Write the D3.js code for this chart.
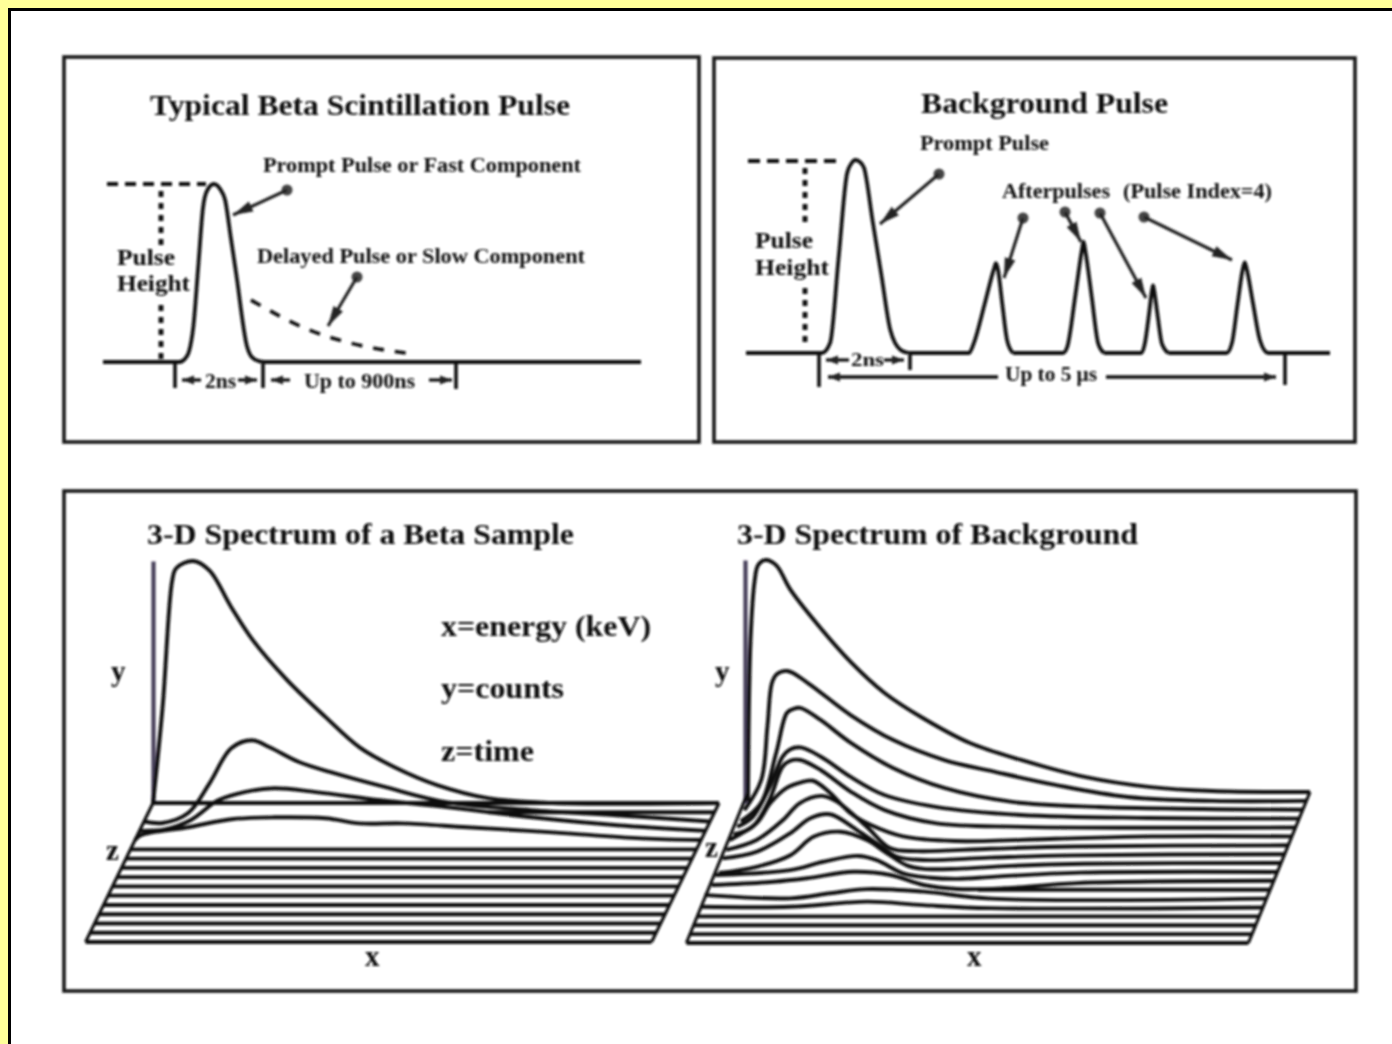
<!DOCTYPE html>
<html>
<head>
<meta charset="utf-8">
<script src="https://cdn.jsdelivr.net/npm/d3@7"></script>
<style>
html, body { margin: 0; padding: 0; background: #fff; overflow: hidden; }
text { font-family: "Liberation Serif", serif; font-weight: bold; fill: #0e0e0e; }
</style>
</head>
<body>
<div id="chart"></div>
<script>
// pulse shapes: [time along the baseline (0-100), pulse height (% of prompt)]
var betaPrompt = [[0, 0], [14.2, 0], [15.3, 2], [16, 6], [16.8, 20], [17.7, 53.5], [18.6, 87], [19.3, 96], [20.6, 100], [21.8, 97], [22.7, 91], [23.7, 71], [24.75, 49.7], [26.8, 8.4], [27.6, 3], [29, 0.5], [30, 0], [100, 0]];
var betaDelayed = [[27.5, 34.8], [38.3, 18], [45.9, 10.7], [56.3, 5]];

var bgPrompt = [[0, 0], [13, 0], [14.4, 5.2], [15.85, 49], [17.3, 93], [18, 98], [18.7, 100], [19.5, 99], [20.2, 96], [21.7, 68], [23.2, 40], [24.7, 12], [26.5, 1.5], [27.9, 0]];
var bgAfter1 = [[27.9, 0], [38.2, 0], [39, 5], [40.9, 25.8], [42.5, 44], [42.8, 46.6], [43.1, 44], [43.9, 25], [44.7, 6.7], [45.7, 0]];
var bgAfter2 = [[45.7, 0], [54.3, 0], [55, 3], [56.4, 30], [57.5, 53], [57.8, 57.7], [58.1, 53], [59.2, 29], [60.3, 5], [61.3, 0]];
var bgAfter3 = [[61.3, 0], [67.7, 0], [68.3, 5], [69, 20], [69.55, 33], [69.7, 35], [69.85, 33], [70.5, 19], [71.2, 5], [72.3, 0]];
var bgAfter4 = [[72.3, 0], [82.3, 0], [83.2, 5], [84.2, 26], [85.1, 44], [85.4, 47], [85.7, 44], [86.8, 26], [88, 6.7], [89.4, 0], [100, 0]];

// 3-D spectra: [energy (0-100), counts (% of the top trace)], one list per time slice
var betaZ0 = [[0, 0], [1.7, 39.7], [3.4, 92], [4.1, 97], [7.1, 100], [10, 96], [13.8, 81], [17.6, 67.4], [23.7, 50.8], [30.5, 35.5], [36.5, 23], [42.6, 14.9], [50.2, 7.4], [59.2, 2], [70.6, 0], [100, 0]];
var betaZ2 = [[0, 0], [3.3, -0.6], [7.8, 3.5], [11.6, 15.9], [15.4, 30.3], [19.1, 33.6], [22.2, 30.7], [27.5, 24.5], [33.6, 20], [42.7, 14.2], [53.4, 8], [68.4, 4.7], [83.5, 2.6], [100, 0]];
var betaZ3 = [[0, 0], [4.5, 0.6], [9, 4.4], [13.9, 12.6], [18.5, 16], [23.8, 17.6], [31.2, 16], [42.6, 12.6], [54.2, 9.8], [69.3, 5.6], [84.4, 2.3], [100, 0]];
var betaZ4 = [[0, 0], [1, 2], [9.4, 5.3], [17, 8.6], [24.6, 9.4], [33.7, 9], [39.7, 6.9], [47.3, 6.9], [58.7, 5.3], [73.8, 3.2], [89.5, 0.7], [100, 0]];
var betaSlices = [0, 2, 3, 4];
var betaCurves = [betaZ0, betaZ2, betaZ3, betaZ4];
// energy where the flat part of each time slice comes into view
var betaFloorStart = [0, 60, 100, 100, 100, 0, 0, 0, 0, 0, 0, 0, 0, 0, 0, 0];

var bgZ0 = [[0, -4], [0.45, 65.5], [1.2, 91.4], [1.8, 97.8], [3.1, 100], [5, 97.8], [7.6, 87], [12.9, 70.7], [18.3, 56], [24.3, 42.7], [31.1, 31.9], [39.5, 21.1], [48.6, 13.8], [59.9, 6.5], [71.3, 2.2], [82.6, 0.4], [100, 0]];
var bgZ1 = [[0, -4], [3, 9], [4.1, 32], [4.9, 50.8], [5.8, 54.7], [7.7, 56], [11.3, 50.8], [18.9, 37], [26.5, 26.2], [35.6, 17.6], [44.6, 12.5], [55.3, 6.9], [68.2, 1.7], [83.3, 0], [100, 0]];
var bgZ2 = [[0, -5], [3.6, 2.9], [6.3, 24.5], [8.2, 41.7], [9.3, 43.4], [10.6, 43.9], [14.2, 38.7], [19.6, 28.8], [27.1, 18], [36.2, 9.4], [48.3, 3.4], [63.7, 1.2], [100, 0]];
var bgZ3 = [[0, -3.5], [2.8, 0.8], [5.8, 13.8], [8.1, 26.7], [9.4, 29.8], [11.3, 30.7], [14.9, 26.7], [20.2, 18], [26.2, 10.2], [35.3, 5.1], [50.5, 1.6], [73, 0.3], [100, 0]];
var bgZ4 = [[0, -3], [3.4, 0.3], [6.4, 11.9], [8.7, 26.2], [10, 28.7], [11.9, 29.1], [15.5, 24.8], [20.9, 15.4], [26.9, 7.5], [35.9, 1.9], [51.2, 0.3], [100, 0]];
var bgZ5 = [[0, -1.5], [4.8, 5.8], [7.2, 14.4], [10.1, 20.9], [12.5, 23.2], [14.8, 24], [17.8, 18.8], [21.4, 10.1], [25, 5], [30.8, 0], [40, -2], [58, -1], [75, 0], [100, 0]];
var bgZ6 = [[0, -2], [5.4, 2.3], [10.1, 10.9], [13.1, 18.2], [17, 21.3], [19.7, 18.8], [25, 8], [29.2, -1.3], [33.9, -2.5], [47, -1.5], [62, -0.5], [100, 0]];
var bgZ7 = [[0, -1.8], [6.1, 1.1], [12, 9], [15.6, 15.5], [19.1, 17.2], [23.9, 10.4], [27.4, 4.7], [31, -1.1], [35.7, -2.5], [47.6, -1.5], [62, -0.5], [100, 0]];
var bgZ8 = [[0, -4.3], [6.7, -1.6], [12.7, 3.4], [16.8, 11.3], [21.6, 13.5], [26.3, 9.9], [29.9, 4.2], [33.4, -1], [36.4, -2.5], [42.3, -2.5], [52, -1.2], [65, -0.3], [100, 0]];
var bgZ9 = [[0, -1.3], [13.3, 0.8], [19.2, 4.4], [25.4, 6.9], [28.7, 5.1], [33.4, -0.6], [38.2, -2.5], [43, -3], [50, -2], [65, -0.3], [100, 0]];
var bgZ10 = [[0, -1.8], [11, -0.4], [16.9, 1.1], [25.2, 3.9], [31.8, 2.5], [37.7, -1.8], [43.6, -3.5], [52, -3.2], [65, -1], [100, 0]];
var bgZ12 = [[0, 1.6], [15.2, 0.1], [22.4, 2.3], [28.9, 4.1], [39, 3], [51, 0], [100, 0]];
var bgZ13 = [[0, 0.3], [15.9, 0.3], [29.6, 2.5], [39.6, 1], [51.5, -0.3], [100, 0]];
var bgSlices = [0, 1, 2, 3, 4, 5, 6, 7, 8, 9, 10, 12, 13];
var bgCurves = [bgZ0, bgZ1, bgZ2, bgZ3, bgZ4, bgZ5, bgZ6, bgZ7, bgZ8, bgZ9, bgZ10, bgZ12, bgZ13];
var bgFloorStart = [100, 100, 100, 100, 100, 100, 100, 100, 100, 100, 100, 48, 100, 100, 0, 0, 0, 0];

var W = 1392, H = 1044;
var ink = "#111";

var svg = d3.select("#chart").append("svg").attr("width", W).attr("height", H).style("display", "block");

// scanned look: everything printed on the white page is slightly soft
var soft = svg.append("defs").append("filter").attr("id", "soft");
soft.append("feGaussianBlur").attr("stdDeviation", 0.8);

svg.append("rect").attr("width", W).attr("height", H).attr("fill", "#FFFF99");
svg.append("rect").attr("x", 8).attr("y", 8).attr("width", W).attr("height", H).attr("fill", "#000");
svg.append("rect").attr("x", 11).attr("y", 11).attr("width", W).attr("height", H).attr("fill", "#fff");

var page = svg.append("g").attr("filter", "url(#soft)");

function label(txt, x, y, size, len) {
    var t = page.append("text").attr("x", x).attr("y", y).style("font-size", size + "px").text(txt);
    if (len) t.attr("textLength", len).attr("lengthAdjust", "spacingAndGlyphs");
    return t;
}

function ball(x, y) {
    page.append("circle").attr("cx", x).attr("cy", y).attr("r", 5.5).attr("fill", "#444");
}

function head(tipX, tipY, fromX, fromY, l, w) {
    var a = Math.atan2(fromY - tipY, fromX - tipX);
    var pts = [[tipX, tipY],
        [tipX + l * Math.cos(a) - w * Math.sin(a), tipY + l * Math.sin(a) + w * Math.cos(a)],
        [tipX + l * Math.cos(a) + w * Math.sin(a), tipY + l * Math.sin(a) - w * Math.cos(a)]];
    page.append("polygon").attr("points", pts.join(" ")).attr("fill", "#222");
}

function pointer(x0, y0, tipX, tipY) {
    ball(x0, y0);
    page.append("line").attr("x1", x0).attr("y1", y0).attr("x2", tipX).attr("y2", tipY).attr("stroke", "#222").attr("stroke-width", 3.2);
    head(tipX, tipY, x0, y0, 20, 5.5);
}

function seg(x1, y1, x2, y2, width, dash) {
    page.append("line").attr("x1", x1).attr("y1", y1).attr("x2", x2).attr("y2", y2)
        .attr("stroke", ink).attr("stroke-width", width).attr("stroke-dasharray", dash || null);
}

function arrow(tipX, y, tailX, width) {
    seg(tailX, y, tipX, y, width);
    head(tipX, y, tailX, y, 12, 4.5);
}

function panel(x, y, w, h) {
    page.append("rect").attr("x", x).attr("y", y).attr("width", w).attr("height", h)
        .attr("fill", "none").attr("stroke", "#161616").attr("stroke-width", 3.6);
}

panel(64, 57, 635, 385);
panel(714, 58, 641, 384);
panel(64, 491, 1292, 500);

// ---- top left: beta pulse
var xA = d3.scaleLinear().domain([0, 100]).range([103, 641]);
var yA = d3.scaleLinear().domain([0, 100]).range([362, 184]);
var lineA = d3.line().x(function (d) { return xA(d[0]); }).y(function (d) { return yA(d[1]); }).curve(d3.curveMonotoneX);

page.append("path").attr("d", lineA(betaPrompt)).attr("fill", "none").attr("stroke", ink).attr("stroke-width", 3.8);
page.append("path").attr("d", lineA(betaDelayed)).attr("fill", "none").attr("stroke", ink).attr("stroke-width", 3.6).attr("stroke-dasharray", "11 11");

seg(107, 184, 206, 184, 3.8, "11 7");
seg(161, 191, 161, 248, 4.8, "6 6");
seg(161, 305, 161, 360, 4.8, "6 6");

label("Typical Beta Scintillation Pulse", 150, 115, 29, 420);
label("Prompt Pulse or Fast Component", 263, 172, 20, 318);
label("Delayed Pulse or Slow Component", 257, 263, 20, 328);
label("Pulse", 117, 265, 23, 58);
label("Height", 117, 291, 23, 73);
label("2ns", 205, 388, 20, 31);
label("Up to 900ns", 304, 388, 20, 111);

pointer(287, 190, 233, 215);
pointer(357, 277, 328, 326);

seg(175, 364, 175, 388, 3.6);
seg(263, 364, 263, 388, 3.6);
seg(456, 364, 456, 389, 3.6);
arrow(182, 380, 201, 3.2);
arrow(257, 380, 238, 3.2);
arrow(271, 380, 290, 3.2);
arrow(452, 380, 429, 3.2);

// ---- top right: background pulse
var xB = d3.scaleLinear().domain([0, 100]).range([746, 1330]);
var yB = d3.scaleLinear().domain([0, 100]).range([353, 160]);
var lineB = d3.line().x(function (d) { return xB(d[0]); }).y(function (d) { return yB(d[1]); }).curve(d3.curveMonotoneX);

page.selectAll(".bgpulse").data([bgPrompt, bgAfter1, bgAfter2, bgAfter3, bgAfter4]).enter().append("path")
    .attr("class", "bgpulse").attr("d", lineB).attr("fill", "none").attr("stroke", ink).attr("stroke-width", 3.8);

seg(748, 161, 841, 161, 3.8, "12 7");
seg(805, 168, 805, 224, 4.8, "6 6");
seg(805, 288, 805, 348, 4.8, "6 6");

label("Background Pulse", 921, 113, 29, 247);
label("Prompt Pulse", 920, 150, 20, 129);
label("Afterpulses", 1002, 198, 20, 108);
label("(Pulse Index=4)", 1123, 198, 20, 149);
label("Pulse", 755, 248, 23, 58);
label("Height", 755, 275, 23, 74);
label("2ns", 851, 366, 19, 33);
label("Up to 5 \u03bcs", 1005, 381, 20, 92);

pointer(939, 174, 880, 224);
pointer(1023, 218, 1004, 278);
pointer(1065, 212, 1081, 242);
pointer(1100, 213, 1146, 298);
pointer(1144, 217, 1232, 260);

seg(819, 355, 819, 387, 3.6);
seg(910, 355, 910, 370, 3.6);
seg(1285, 355, 1285, 385, 3.6);
arrow(826, 360, 849, 3.2);
arrow(904, 360, 884, 3.2);
arrow(828, 377, 998, 3.4);
arrow(1276, 377, 1106, 3.4);

// ---- bottom: 3-D spectra, a plane sheared by the time slice
function spectrum(opt) {
    var zX = d3.scaleLinear().domain([0, opt.last]).range(opt.leftX);
    var zY = d3.scaleLinear().domain([0, opt.last]).range(opt.floorY);
    var eX = d3.scaleLinear().domain([0, 100]).range([0, opt.width]);
    var cY = d3.scaleLinear().domain([0, 100]).range([0, opt.topY - opt.floorY[0]]);

    function traceLine(z) {
        return d3.line().x(function (d) { return zX(z) + eX(d[0]); }).y(function (d) { return zY(z) + cY(d[1]); }).curve(d3.curveCatmullRom.alpha(0.5));
    }

    // y axis
    var axisY = d3.scaleLinear().domain([0, 100]).range([opt.axisBase, opt.topY]);
    var ax = page.append("g").attr("transform", "translate(" + opt.axisX + ",0)").call(d3.axisLeft(axisY).tickValues([]).tickSize(0));
    ax.select(".domain").attr("stroke", "#463f5a").attr("stroke-width", 4.2);

    // plane edges
    seg(zX(0), zY(0), zX(opt.last), zY(opt.last), 3.2);
    seg(zX(0) + eX(100), zY(0), zX(opt.last) + eX(100), zY(opt.last), 3.2);

    // flat part of every slice
    opt.floorStart.forEach(function (start, z) {
        if (start < 100) {
            page.append("path").attr("d", traceLine(z)([[start, 0], [100, 0]])).attr("fill", "none").attr("stroke", ink).attr("stroke-width", 3.9);
        }
    });

    // raised curves
    opt.curves.forEach(function (pts, i) {
        page.append("path").attr("d", traceLine(opt.slices[i])(pts)).attr("fill", "none").attr("stroke", ink).attr("stroke-width", 3.9);
    });
}

spectrum({
    last: 15, leftX: [153, 85.6], floorY: [803, 942], width: 566, topY: 561,
    axisX: 153, axisBase: 803, slices: betaSlices, curves: betaCurves, floorStart: betaFloorStart
});
spectrum({
    last: 17, leftX: [748, 686.4], floorY: [792, 943], width: 562, topY: 560,
    axisX: 745, axisBase: 803, slices: bgSlices, curves: bgCurves, floorStart: bgFloorStart
});

label("3-D Spectrum of a Beta Sample", 147, 544, 29, 427);
label("3-D Spectrum of Background", 737, 544, 29, 401);
label("x=energy (keV)", 441, 636, 30, 210);
label("y=counts", 441, 698, 30, 123);
label("z=time", 441, 761, 30, 93);
label("y", 111, 681, 29);
label("z", 106, 860, 29);
label("x", 365, 966, 29);
label("y", 715, 681, 29);
label("z", 705, 857, 29);
label("x", 967, 966, 29);
</script>
</body>
</html>
